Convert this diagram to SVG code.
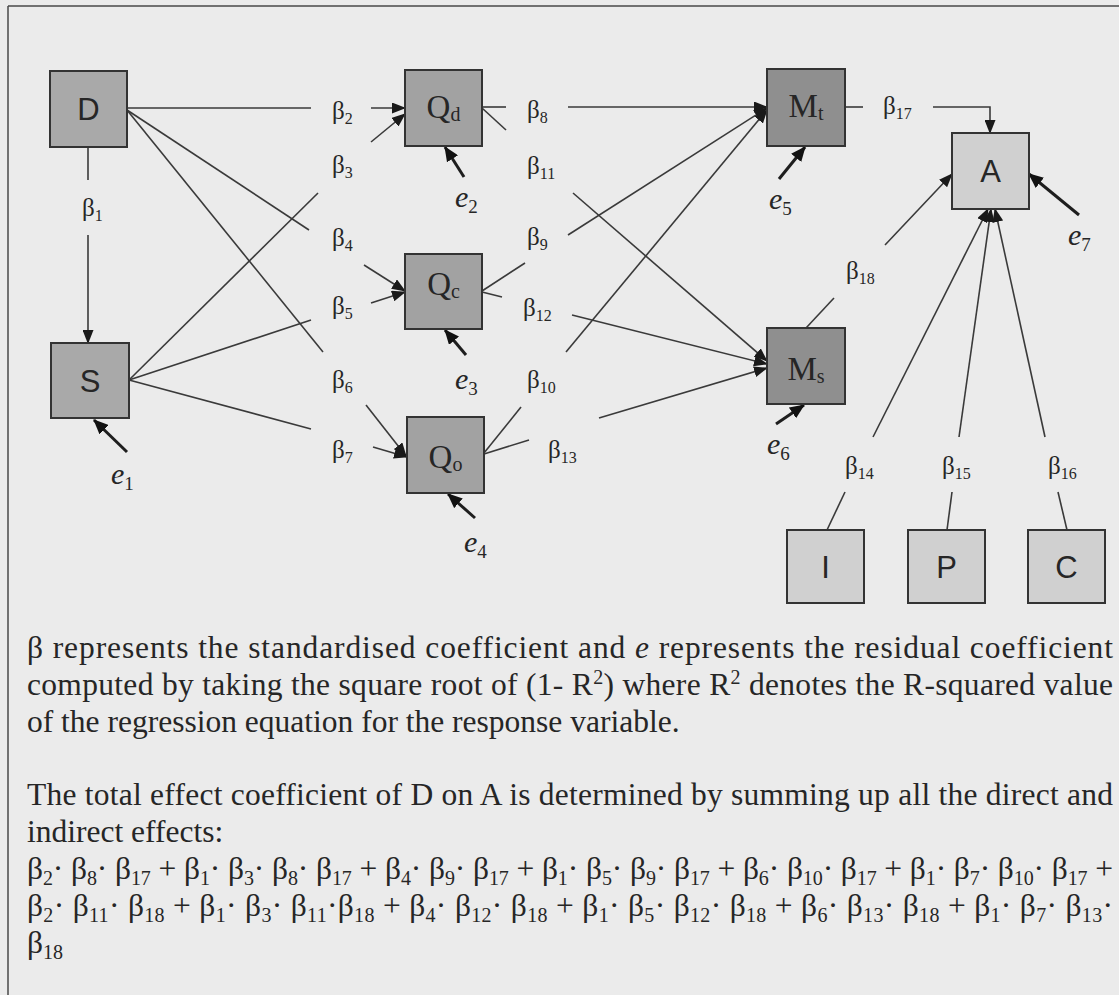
<svg xmlns="http://www.w3.org/2000/svg" width="1119" height="995" viewBox="0 0 1119 995">
<defs>
<style>
.bg{fill:#ebebeb}
.frame{stroke:#4a4a4a;stroke-width:1.5;fill:none}
.box{stroke:#333;stroke-width:2}
.g1{fill:#a9a9a9}
.g2{fill:#a2a2a2}
.g3{fill:#8f8f8f}
.g4{fill:#d0d0d0}
.sans{font-family:"Liberation Sans",Arial,sans-serif;font-size:31px;fill:#262626;text-anchor:middle}
.ser{font-family:"Liberation Serif","Times New Roman",serif;fill:#262626}
.nl{font-size:33px;text-anchor:middle}
.nsub{font-size:20px}
.b{font-size:25px}
.bs{font-size:16px}
.e{font-size:30px;font-style:italic}
.es{font-size:19px;font-style:normal}
.c{stroke:#3a3a3a;stroke-width:1.6;fill:none}
.ca{stroke:#3a3a3a;stroke-width:1.6;fill:none;marker-end:url(#ah)}
.ea{stroke:#1e1e1e;stroke-width:3;fill:none;marker-end:url(#eh)}
.body{font-size:31.5px}
.sub{font-size:20px}
</style>
<marker id="ah" viewBox="0 0 14 11" refX="13" refY="5.5" markerWidth="14" markerHeight="11" orient="auto" markerUnits="userSpaceOnUse"><path d="M0,0 L14,5.5 L0,11 z" fill="#1a1a1a"/></marker>
<marker id="eh" viewBox="0 0 15 13" refX="14" refY="6.5" markerWidth="15" markerHeight="13" orient="auto" markerUnits="userSpaceOnUse"><path d="M0,0 L15,6.5 L0,13 z" fill="#111"/></marker>
</defs>
<rect class="bg" x="0" y="0" width="1119" height="995"/>
<path class="frame" d="M8,6 H1119 M8,6 V995"/>

<g id="connectors">
<path class="c" d="M127,108 H311"/>
<path class="c" d="M127,110 L309,230"/>
<path class="c" d="M127,110 L323,352"/>
<path class="c" d="M129,380 L318,193"/>
<path class="c" d="M129,380 L311,320"/>
<path class="c" d="M129,380 L311,429"/>
<path class="c" d="M88,147 V180"/>
<path class="c" d="M482,107 H506"/>
<path class="c" d="M482,108 L506,130"/>
<path class="c" d="M482,291 L525,263"/>
<path class="c" d="M482,292 L502,297"/>
<path class="c" d="M484,453 L521,407"/>
<path class="c" d="M484,454 L529,440"/>
<path class="c" d="M845,107 H863"/>
<path class="c" d="M806,328 L834,298"/>
<path class="c" d="M827,530 L845,492"/>
<path class="c" d="M947,530 L952,492"/>
<path class="c" d="M1067,530 L1058,492"/>

<path class="ca" d="M371,108 H405"/>
<path class="ca" d="M371,142 L405,114"/>
<path class="ca" d="M364,265 L405,291"/>
<path class="ca" d="M371,303 L405,292"/>
<path class="ca" d="M366,405 L406,456"/>
<path class="ca" d="M373,447 L407,457"/>
<path class="ca" d="M88,235 V343"/>
<path class="ca" d="M568,107 H767"/>
<path class="ca" d="M568,235 L767,108"/>
<path class="ca" d="M566,352 L767,110"/>
<path class="ca" d="M573,193 L767,361"/>
<path class="ca" d="M572,315 L767,364"/>
<path class="ca" d="M599,418 L767,368"/>
<path class="ca" d="M933,107 H990 V133"/>
<path class="ca" d="M885,245 L952,174"/>
<path class="ca" d="M873,437 L988,209"/>
<path class="ca" d="M959,437 L991,209"/>
<path class="ca" d="M1045,437 L995,209"/>

<path class="ea" d="M127,452 L94,420"/>
<path class="ea" d="M464,177 L445,147"/>
<path class="ea" d="M466,355 L445,330"/>
<path class="ea" d="M475,518 L448,494"/>
<path class="ea" d="M779,179 L805,147"/>
<path class="ea" d="M776,424 L804,405"/>
<path class="ea" d="M1079,215 L1029,174"/>
</g>

<g id="labels" class="ser">
<text class="b" x="82" y="216">β<tspan class="bs" dy="5">1</tspan></text>
<text class="b" x="332" y="119">β<tspan class="bs" dy="5">2</tspan></text>
<text class="b" x="332" y="173">β<tspan class="bs" dy="5">3</tspan></text>
<text class="b" x="332" y="246">β<tspan class="bs" dy="5">4</tspan></text>
<text class="b" x="332" y="314">β<tspan class="bs" dy="5">5</tspan></text>
<text class="b" x="332" y="388">β<tspan class="bs" dy="5">6</tspan></text>
<text class="b" x="332" y="458">β<tspan class="bs" dy="5">7</tspan></text>
<text class="b" x="527" y="118">β<tspan class="bs" dy="5">8</tspan></text>
<text class="b" x="527" y="174">β<tspan class="bs" dy="5">11</tspan></text>
<text class="b" x="527" y="245">β<tspan class="bs" dy="5">9</tspan></text>
<text class="b" x="523" y="316">β<tspan class="bs" dy="5">12</tspan></text>
<text class="b" x="527" y="388">β<tspan class="bs" dy="5">10</tspan></text>
<text class="b" x="548" y="458">β<tspan class="bs" dy="5">13</tspan></text>
<text class="b" x="883" y="114">β<tspan class="bs" dy="5">17</tspan></text>
<text class="b" x="846" y="279">β<tspan class="bs" dy="5">18</tspan></text>
<text class="b" x="845" y="474">β<tspan class="bs" dy="5">14</tspan></text>
<text class="b" x="942" y="474">β<tspan class="bs" dy="5">15</tspan></text>
<text class="b" x="1048" y="474">β<tspan class="bs" dy="5">16</tspan></text>
<text class="e" x="111" y="484">e<tspan class="es" dy="6">1</tspan></text>
<text class="e" x="455" y="207">e<tspan class="es" dy="6">2</tspan></text>
<text class="e" x="455" y="389">e<tspan class="es" dy="6">3</tspan></text>
<text class="e" x="464" y="552">e<tspan class="es" dy="6">4</tspan></text>
<text class="e" x="769" y="209">e<tspan class="es" dy="6">5</tspan></text>
<text class="e" x="767" y="454">e<tspan class="es" dy="6">6</tspan></text>
<text class="e" x="1068" y="245">e<tspan class="es" dy="6">7</tspan></text>
</g>

<g id="node-D"><rect class="box g1" x="50" y="71" width="77" height="76"/><text class="sans" x="88.5" y="120">D</text></g>
<g id="node-S"><rect class="box g1" x="51" y="343" width="78" height="75"/><text class="sans" x="90" y="392">S</text></g>
<g id="node-Qd"><rect class="box g2" x="405" y="70" width="77" height="76"/><text class="ser nl" x="443.5" y="118">Q<tspan class="nsub" dy="3">d</tspan></text></g>
<g id="node-Qc"><rect class="box g2" x="405" y="254" width="77" height="75"/><text class="ser nl" x="443.5" y="295">Q<tspan class="nsub" dy="3">c</tspan></text></g>
<g id="node-Qo"><rect class="box g2" x="407" y="417" width="77" height="76"/><text class="ser nl" x="445.5" y="468">Q<tspan class="nsub" dy="3">o</tspan></text></g>
<g id="node-Mt"><rect class="box g3" x="767" y="69" width="78" height="77"/><text class="ser nl" x="806" y="117">M<tspan class="nsub" dy="3">t</tspan></text></g>
<g id="node-Ms"><rect class="box g3" x="767" y="328" width="78" height="76"/><text class="ser nl" x="806" y="380">M<tspan class="nsub" dy="3">s</tspan></text></g>
<g id="node-A"><rect class="box g4" x="952" y="133" width="77" height="76"/><text class="sans" x="990.5" y="182">A</text></g>
<g id="node-I"><rect class="box g4" x="787" y="530" width="77" height="73"/><text class="sans" x="825.5" y="578">I</text></g>
<g id="node-P"><rect class="box g4" x="908" y="530" width="77" height="73"/><text class="sans" x="946.5" y="578">P</text></g>
<g id="node-C"><rect class="box g4" x="1028" y="530" width="77" height="73"/><text class="sans" x="1066.5" y="578">C</text></g>

<g id="caption" class="ser body">
<text x="27" y="658" textLength="1086">β represents the standardised coefficient and <tspan font-style="italic">e</tspan> represents the residual coefficient</text>
<text x="27" y="695" textLength="1086">computed by taking the square root of (1- R<tspan class="sub" baseline-shift="11">2</tspan>) where R<tspan class="sub" baseline-shift="11">2</tspan> denotes the R-squared value</text>
<text x="27" y="732">of the regression equation for the response variable.</text>
<text x="27" y="805" textLength="1086">The total effect coefficient of D on A is determined by summing up all the direct and</text>
<text x="27" y="842">indirect effects:</text>
<text x="27" y="879" textLength="1086">β<tspan class="sub" baseline-shift="-6">2</tspan>· β<tspan class="sub" baseline-shift="-6">8</tspan>· β<tspan class="sub" baseline-shift="-6">17</tspan> + β<tspan class="sub" baseline-shift="-6">1</tspan>· β<tspan class="sub" baseline-shift="-6">3</tspan>· β<tspan class="sub" baseline-shift="-6">8</tspan>· β<tspan class="sub" baseline-shift="-6">17</tspan> + β<tspan class="sub" baseline-shift="-6">4</tspan>· β<tspan class="sub" baseline-shift="-6">9</tspan>· β<tspan class="sub" baseline-shift="-6">17</tspan> + β<tspan class="sub" baseline-shift="-6">1</tspan>· β<tspan class="sub" baseline-shift="-6">5</tspan>· β<tspan class="sub" baseline-shift="-6">9</tspan>· β<tspan class="sub" baseline-shift="-6">17</tspan> + β<tspan class="sub" baseline-shift="-6">6</tspan>· β<tspan class="sub" baseline-shift="-6">10</tspan>· β<tspan class="sub" baseline-shift="-6">17</tspan> + β<tspan class="sub" baseline-shift="-6">1</tspan>· β<tspan class="sub" baseline-shift="-6">7</tspan>· β<tspan class="sub" baseline-shift="-6">10</tspan>· β<tspan class="sub" baseline-shift="-6">17</tspan> +</text>
<text x="27" y="916" textLength="1086">β<tspan class="sub" baseline-shift="-6">2</tspan>· β<tspan class="sub" baseline-shift="-6">11</tspan>· β<tspan class="sub" baseline-shift="-6">18</tspan> + β<tspan class="sub" baseline-shift="-6">1</tspan>· β<tspan class="sub" baseline-shift="-6">3</tspan>· β<tspan class="sub" baseline-shift="-6">11</tspan>·β<tspan class="sub" baseline-shift="-6">18</tspan> + β<tspan class="sub" baseline-shift="-6">4</tspan>· β<tspan class="sub" baseline-shift="-6">12</tspan>· β<tspan class="sub" baseline-shift="-6">18</tspan> + β<tspan class="sub" baseline-shift="-6">1</tspan>· β<tspan class="sub" baseline-shift="-6">5</tspan>· β<tspan class="sub" baseline-shift="-6">12</tspan>· β<tspan class="sub" baseline-shift="-6">18</tspan> + β<tspan class="sub" baseline-shift="-6">6</tspan>· β<tspan class="sub" baseline-shift="-6">13</tspan>· β<tspan class="sub" baseline-shift="-6">18</tspan> + β<tspan class="sub" baseline-shift="-6">1</tspan>· β<tspan class="sub" baseline-shift="-6">7</tspan>· β<tspan class="sub" baseline-shift="-6">13</tspan>·</text>
<text x="27" y="953">β<tspan class="sub" baseline-shift="-6">18</tspan></text>
</g>
</svg>
